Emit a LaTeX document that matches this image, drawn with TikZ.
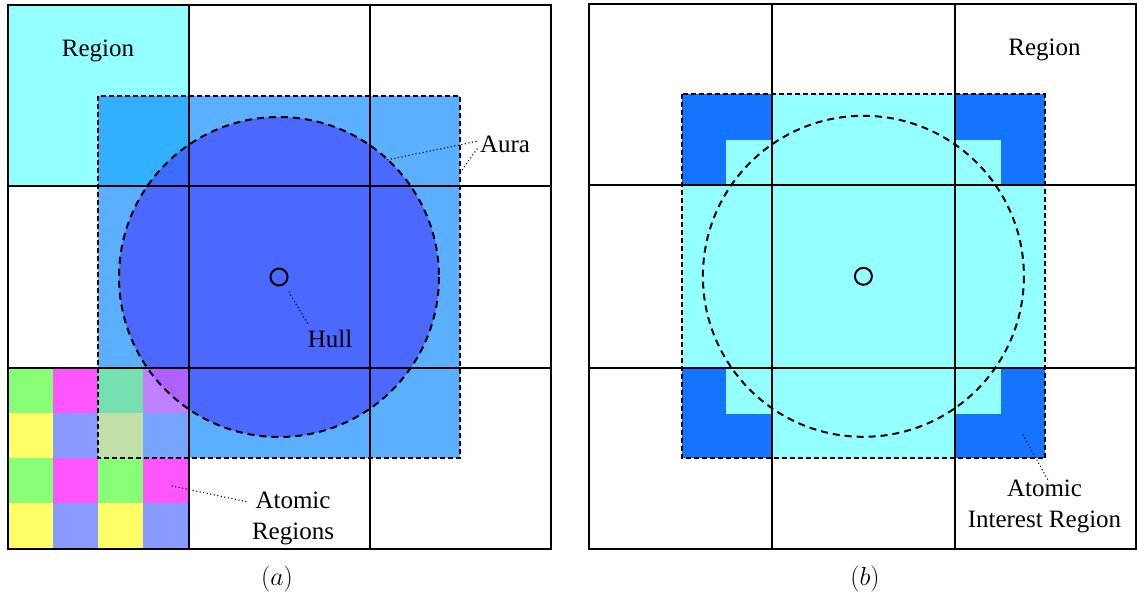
\documentclass[tikz,border=0pt]{standalone}
\usepackage{fix-cm}
\usepackage{fontspec}
\setmainfont{Liberation Serif}
\definecolor{regcyan}{HTML}{93FFFF}
\definecolor{auraL}{HTML}{5AB0FF}
\definecolor{auraCy}{HTML}{33AFFF}
\definecolor{hullC}{HTML}{4B69FF}
\definecolor{hullCy}{HTML}{3E6BFF}
\definecolor{agreen}{HTML}{88FF77}
\definecolor{amag}{HTML}{FF55FF}
\definecolor{ayel}{HTML}{FFFF66}
\definecolor{aperi}{HTML}{8899FF}
\definecolor{agreenA}{HTML}{77E0B0}
\definecolor{amagA}{HTML}{C080FF}
\definecolor{ayelA}{HTML}{C0E0A8}
\definecolor{aperiA}{HTML}{77A4FF}
\definecolor{amagH}{HTML}{B060FF}
\definecolor{darkB}{HTML}{1473FF}
\tikzset{
  gridline/.style={line width=2pt, black},
  auraline/.style={line width=2pt, dash pattern=on 5pt off 3pt},
  circline/.style={line width=2pt, dash pattern=on 7pt off 5pt},
  leader/.style={line width=1.5pt, line cap=round, dash pattern=on 0pt off 3.6pt},
  lbl/.style={inner sep=0pt, align=center, font=\rmfamily\fontsize{25}{31}\selectfont},
  hullmark/.style={line width=2pt, draw=black, circle, minimum size=17pt, inner sep=0pt},
  caplbl/.style={inner sep=0pt, font=\fontsize{26}{30}\selectfont},
}
\begin{document}
\begin{tikzpicture}[x=1pt,y=-1pt]
\useasboundingbox (0,0) rectangle (1137,601);
% ================= (a) =================
\fill[regcyan] (7.5,5.5) rectangle (188.5,186.5);
\fill[auraL] (98,96) rectangle (460,458);
\fill[auraCy] (98,96) rectangle (188.5,186.5);
% atomic regions
\fill[agreen] (7.5,367.5) rectangle (52.75,412.75);
\fill[amag] (52.75,367.5) rectangle (98,412.75);
\fill[agreenA] (98,367.5) rectangle (143.25,412.75);
\fill[amagA] (143.25,367.5) rectangle (188.5,412.75);
\fill[ayel] (7.5,412.75) rectangle (52.75,458);
\fill[aperi] (52.75,412.75) rectangle (98,458);
\fill[ayelA] (98,412.75) rectangle (143.25,458);
\fill[aperiA] (143.25,412.75) rectangle (188.5,458);
\fill[agreen] (7.5,458) rectangle (52.75,503.25);
\fill[amag] (52.75,458) rectangle (98,503.25);
\fill[agreen] (98,458) rectangle (143.25,503.25);
\fill[amag] (143.25,458) rectangle (188.5,503.25);
\fill[ayel] (7.5,503.25) rectangle (52.75,548.5);
\fill[aperi] (52.75,503.25) rectangle (98,548.5);
\fill[ayel] (98,503.25) rectangle (143.25,548.5);
\fill[aperi] (143.25,503.25) rectangle (188.5,548.5);
% hull
\fill[hullC] (279,277) circle[radius=160];
\begin{scope}
  \clip (98,96) rectangle (188.5,186.5);
  \fill[hullCy] (279,277) circle[radius=160];
\end{scope}
\begin{scope}
  \clip (143.25,367.5) rectangle (188.5,412.75);
  \fill[amagH] (279,277) circle[radius=160];
\end{scope}
% grid
\draw[gridline] (188.5,5.5) -- (188.5,548.5) (369.5,5.5) -- (369.5,548.5)
  (7.5,186.5) -- (550.5,186.5) (7.5,367.5) -- (550.5,367.5);
\draw[gridline] (7.5,5.5) rectangle (550.5,548.5);
\draw[auraline] (98,96) rectangle (460,458);
\draw[circline] (279,277) circle[radius=160];
\node[hullmark] (hullA) at (279,277) {};
% labels
\node[lbl] (regionA) at (98,51) {Region};
\node[lbl] (hullT) at (330,339) {Hull};
\node[lbl] (auraT) at (505,144) {Aura};
\node[lbl] (atomT) at (293,518) {Atomic\\Regions};
\coordinate (hullS) at (289,292);
\coordinate (hullE) at (308,324);
\draw[leader] (hullS) -- (hullE);
\coordinate (auraS1) at (476,141.5);
\coordinate (auraE1) at (386.5,160);
\coordinate (auraS2) at (477,149);
\coordinate (auraE2) at (460,173);
\draw[leader] (auraS1) -- (auraE1);
\draw[leader] (auraS2) -- (auraE2);
\coordinate (atomS) at (172,486);
\coordinate (atomE) at (248,502);
\draw[leader] (atomS) -- (atomE);
\node[caplbl] (capA) at (277,579) {$(a)$};
% ================= (b) =================
\fill[regcyan] (681.7,94.3) rectangle (1045,458.3);
\fill[darkB] (681.7,94.3) rectangle (772,185.5);
\fill[regcyan] (726,140) rectangle (772,185.5);
\fill[darkB] (955,94.3) rectangle (1045,185.5);
\fill[regcyan] (955,140) rectangle (1001,185.5);
\fill[darkB] (681.7,367.5) rectangle (772,458.3);
\fill[regcyan] (726,367.5) rectangle (772,414);
\fill[darkB] (955,367.5) rectangle (1045,458.3);
\fill[regcyan] (955,367.5) rectangle (1001,414);
\draw[gridline] (772,4.5) -- (772,549) (955,4.5) -- (955,549)
  (589,185.5) -- (1136,185.5) (589,367.5) -- (1136,367.5);
\draw[gridline] (589,4.5) rectangle (1136,549);
\draw[auraline] (681.7,94.3) rectangle (1045,458.3);
\draw[circline] (863.4,276.3) circle[radius=160.5];
\node[hullmark] (hullB) at (863.4,276.3) {};
\node[lbl] (regionB) at (1044.5,50) {Region};
\node[lbl] (atomB) at (1044.5,506) {Atomic\\Interest Region};
\coordinate (atomBS) at (1023,435);
\coordinate (atomBE) at (1048,480);
\draw[leader] (atomBS) -- (atomBE);
\node[caplbl] (capB) at (865,579) {$(b)$};
\end{tikzpicture}
\end{document}
